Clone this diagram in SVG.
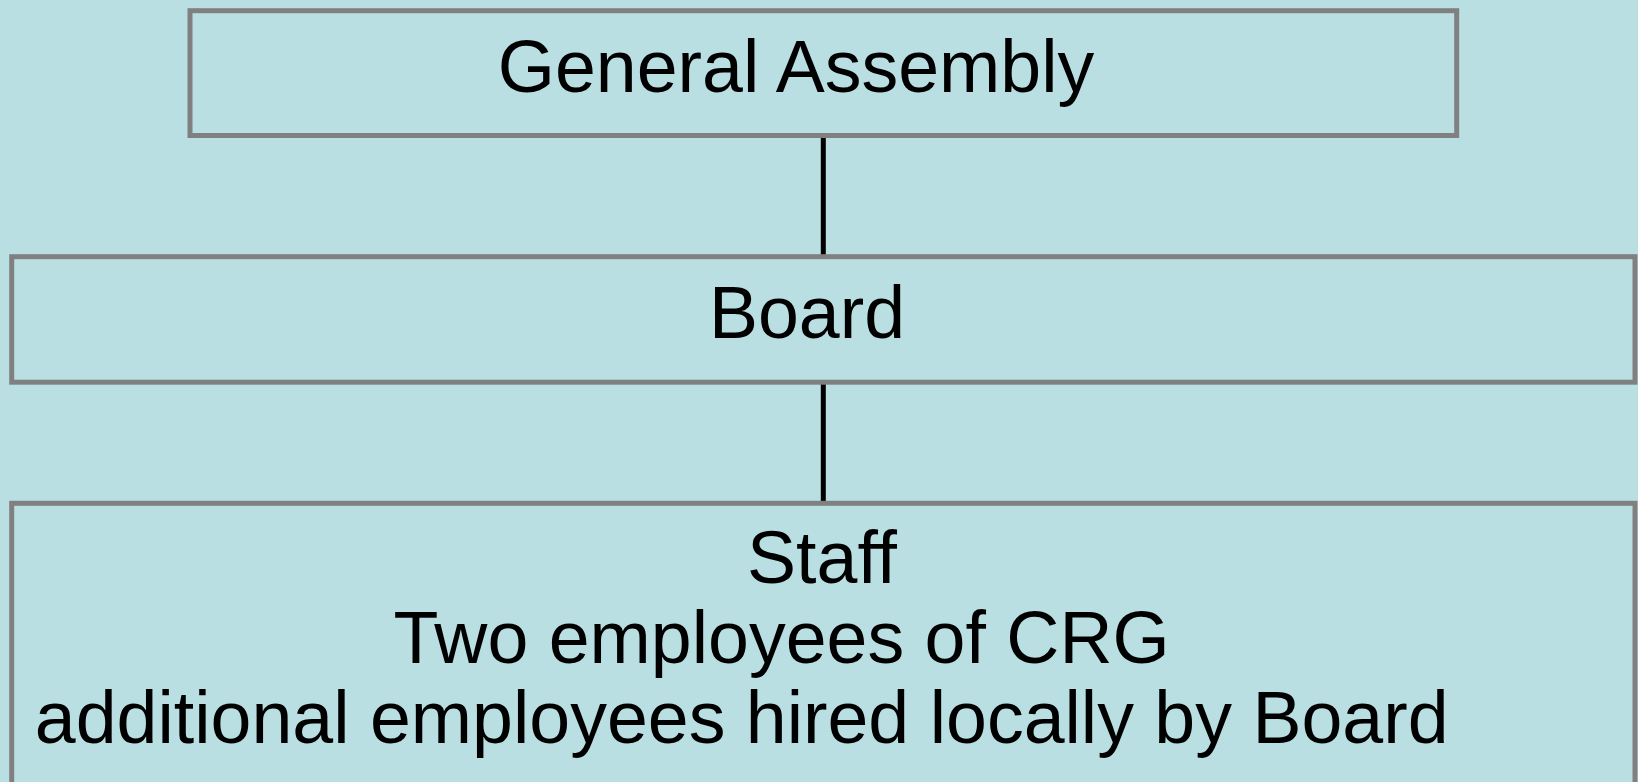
<svg xmlns="http://www.w3.org/2000/svg" width="1638" height="782" viewBox="0 0 1638 782">
  <style>
    .box { fill: #b9dfe3; stroke: #808080; stroke-width: 5; }
    .lbl { font-family: "Liberation Sans", Arial, sans-serif; font-size: 73.5px; fill: #000000; text-anchor: middle; }
    .conn { stroke: #000000; stroke-width: 5; fill: none; }
  </style>
  <rect x="0" y="0" width="1638" height="782" fill="#b9dfe3"/>
  <g id="connectors">
    <line class="conn" x1="823.3" y1="136" x2="823.3" y2="256"/>
    <line class="conn" x1="823.3" y1="383" x2="823.3" y2="502"/>
  </g>
  <g id="general-assembly">
    <rect class="box" x="190" y="10.7" width="1266.7" height="124.8"/>
    <text class="lbl" x="796" y="92">General Assembly</text>
  </g>
  <g id="board">
    <rect class="box" x="11.7" y="256.7" width="1623.3" height="125.5"/>
    <text class="lbl" x="807" y="338">Board</text>
  </g>
  <g id="staff">
    <rect class="box" x="11.7" y="503.3" width="1623.3" height="300"/>
    <text class="lbl" x="822" y="583">Staff</text>
    <text class="lbl" x="781.6" y="663">Two employees of CRG</text>
    <text class="lbl" x="741.7" y="743">additional employees hired locally by Board</text>
  </g>
</svg>
